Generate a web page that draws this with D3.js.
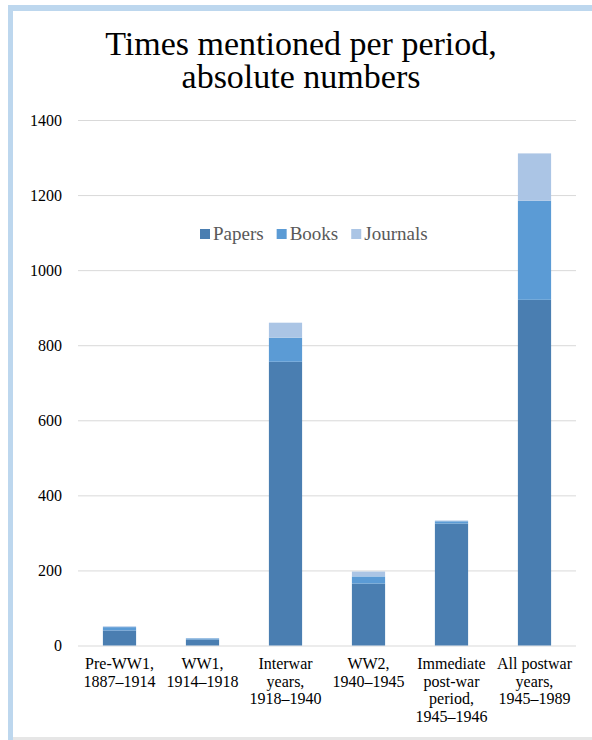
<!DOCTYPE html>
<html>
<head>
<meta charset="UTF-8" />
<title>Times mentioned per period</title>
<script src="https://d3js.org/d3.v7.min.js"></script>
<style>
	body { margin:0; background:#fff; }
</style>
</head>
<body>
<svg id="chart" width="592" height="740"></svg>
<script>
// data
var categories = ["Pre-WW1, 1887\u20131914", "WW1, 1914\u20131918", "Interwar years, 1918\u20131940",
	"WW2, 1940\u20131945", "Immediate post-war period, 1945\u20131946", "All postwar years, 1945\u20131989"]
var categoryLines = [
	["Pre-WW1,", "1887\u20131914"],
	["WW1,", "1914\u20131918"],
	["Interwar", "years,", "1918\u20131940"],
	["WW2,", "1940\u20131945"],
	["Immediate", "post-war", "period,", "1945\u20131946"],
	["All postwar", "years,", "1945\u20131989"]
]
var papers   = [40, 16, 756, 165, 325, 921]
var books    = [9, 3, 64, 19, 6, 264]
var journals = [2, 1, 40, 13, 2, 126]
var seriesNames = ["Papers", "Books", "Journals"]
var seriesColors = ["#4a7eb1", "#5b9bd5", "#abc5e5"]
var yTicks = [0, 200, 400, 600, 800, 1000, 1200, 1400]

var serif = "Liberation Serif"
var svg = d3.select("#chart")

// outer frame (light blue on left/top, grey at bottom)
svg.append("rect").attr("x", 8).attr("y", 5).attr("width", 600).attr("height", 6).attr("fill", "#bdd7ee")
svg.append("rect").attr("x", 8).attr("y", 5).attr("width", 5).attr("height", 735).attr("fill", "#bdd7ee")
svg.append("rect").attr("x", 13).attr("y", 737).attr("width", 580).attr("height", 3).attr("fill", "#e6e6e6")

// title
svg.append("text").attr("x", 301).attr("y", 55).attr("text-anchor", "middle")
	.attr("font-family", serif).attr("font-size", 34).attr("fill", "#000").text("Times mentioned per period,")
svg.append("text").attr("x", 301).attr("y", 88).attr("text-anchor", "middle")
	.attr("font-family", serif).attr("font-size", 34).attr("fill", "#000").text("absolute numbers")

var x = d3.scaleBand().domain(categories).range([78, 576]).paddingInner(0.6).paddingOuter(0.3)
var y = d3.scaleLinear().domain([0, 1400]).range([645.5, 120])

// gridlines + y labels
var yAxis = d3.axisLeft(y).tickValues(yTicks).tickFormat(d3.format("d")).tickSize(-498).tickPadding(16)
var gy = svg.append("g").attr("transform", "translate(78,0)").call(yAxis)
gy.attr("font-family", serif).attr("font-size", 16)
gy.select(".domain").remove()
gy.selectAll(".tick line").attr("stroke", "#d9d9d9").attr("stroke-width", 1)
gy.selectAll(".tick text").attr("fill", "#000")

// stack
var rows = categories.map((c, i) => ({cat: c, Papers: papers[i], Books: books[i], Journals: journals[i]}))
var stack = d3.stack().keys(seriesNames)(rows)

svg.append("g").selectAll("g")
	.data(stack)
	.join("g")
	.attr("fill", (d, i) => seriesColors[i])
	.selectAll("rect")
	.data(d => d)
	.join("rect")
	.attr("x", d => x(d.data.cat))
	.attr("width", x.bandwidth())
	.attr("y", d => y(d[1]))
	.attr("height", d => y(d[0]) - y(d[1]))

// x labels
var gx = svg.append("g")
categories.forEach((c, i) => {
	var t = gx.append("text").attr("text-anchor", "middle")
		.attr("x", x(c) + x.bandwidth() / 2).attr("y", 669)
		.attr("font-family", serif).attr("font-size", 16).attr("fill", "#000")
	categoryLines[i].forEach((line, j) => {
		t.append("tspan").attr("x", x(c) + x.bandwidth() / 2).attr("dy", j == 0 ? 0 : 17.5).text(line)
	})
})

// legend
var legend = svg.append("g").attr("transform", "translate(200,234)")
var lx = 0
seriesNames.forEach((name, i) => {
	legend.append("rect").attr("x", lx).attr("y", -5).attr("width", 10).attr("height", 10).attr("fill", seriesColors[i])
	var tx = legend.append("text").attr("x", lx + 13).attr("y", 5.5)
		.attr("font-family", serif).attr("font-size", 19).attr("fill", "#595959").text(name)
	lx += 13 + tx.node().getComputedTextLength() + 13
})
</script>
</body>
</html>
